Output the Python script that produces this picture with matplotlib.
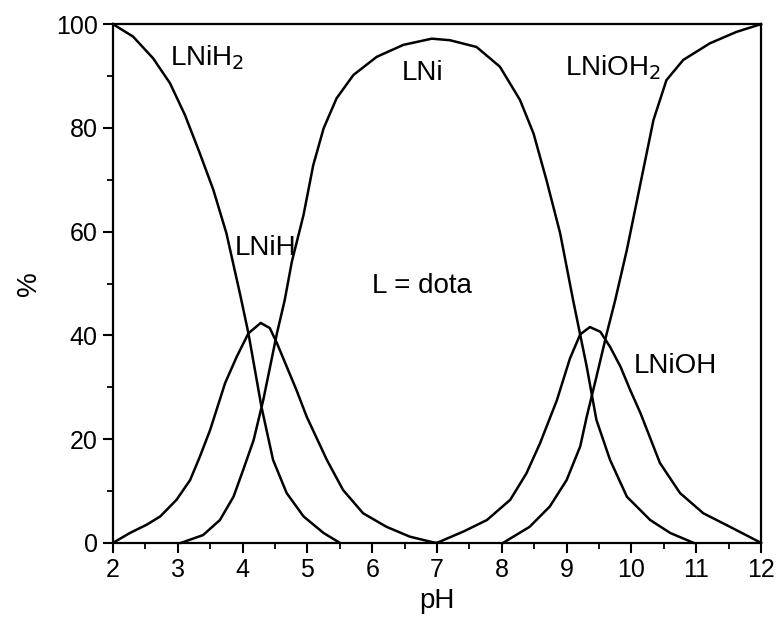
import matplotlib.pyplot as plt
from matplotlib.ticker import MultipleLocator

plt.rcParams['font.family'] = ['Liberation Sans', 'DejaVu Sans']

# species distribution curves
ph_lnih2 = [2, 2.31, 2.62, 2.88, 3.11, 3.34, 3.55, 3.75, 3.96, 4.09, 4.29, 4.47, 4.68, 4.94, 5.25, 5.5]
pc_lnih2 = [100, 97.6, 93.4, 88.6, 82.5, 75.1, 68, 59.7, 48, 40.4, 26.3, 16, 9.6, 5.1, 1.9, 0]

ph_lnih = [2, 2.26, 2.52, 2.73, 2.98, 3.19, 3.34, 3.5, 3.73, 3.91, 4.09, 4.28, 4.42, 4.53, 4.68,
           4.83, 4.99, 5.3, 5.55, 5.86, 6.22, 6.58, 6.94, 7.0]
pc_lnih = [0, 1.9, 3.5, 5.1, 8.3, 12.1, 16.6, 21.8, 30.8, 35.9, 40.4, 42.4, 41.4, 38.5, 34,
           29.5, 24.3, 16, 10.2, 5.7, 3.1, 1.2, 0.1, 0]

ph_lni = [3.05, 3.39, 3.65, 3.86, 4.01, 4.17, 4.32, 4.53, 4.65, 4.76, 4.94, 5.09, 5.25, 5.45,
          5.71, 6.07, 6.48, 6.92, 7.2, 7.61, 7.97, 8.28, 8.49, 8.69, 8.9, 9.1, 9.31, 9.46,
          9.67, 9.93, 10.29, 10.6, 10.96]
pc_lni = [0, 1.5, 4.4, 8.9, 14.1, 19.8, 27.6, 40.4, 46.8, 54.2, 63.2, 72.8, 79.9, 85.7,
          90.2, 93.7, 96, 97.2, 96.9, 95.6, 91.8, 85.4, 78.9, 69.9, 59.7, 46.8, 34, 23.7,
          16, 8.9, 4.4, 1.9, 0]

ph_lnioh = [7, 7.41, 7.77, 8.13, 8.38, 8.59, 8.85, 9.05, 9.21, 9.36, 9.52, 9.67, 9.83, 9.98,
            10.14, 10.44, 10.75, 11.11, 11.52, 12]
pc_lnioh = [0, 2.2, 4.4, 8.3, 13.4, 19.2, 27.5, 35.5, 40.2, 41.6, 40.7, 37.8, 34, 29.5,
            25, 15.4, 9.6, 5.7, 3.1, 0]

ph_lnioh2 = [8.02, 8.43, 8.74, 9.0, 9.21, 9.31, 9.46, 9.62, 9.75, 9.93, 10.13, 10.34, 10.54,
             10.8, 11.21, 11.62, 12]
pc_lnioh2 = [0, 3.1, 7, 12.1, 18.6, 24.3, 32, 40.4, 46.8, 56.5, 68.7, 81.5, 89.2,
             93.1, 96.3, 98.5, 100]

fig = plt.figure(figsize=(7.76, 6.19), dpi=100)
ax = fig.add_axes([0.1456, 0.123, 0.8351, 0.838])

for xs, ys in [(ph_lnih2, pc_lnih2), (ph_lnih, pc_lnih), (ph_lni, pc_lni),
               (ph_lnioh, pc_lnioh), (ph_lnioh2, pc_lnioh2)]:
    ax.plot(xs, ys, color='black', lw=1.8, clip_on=False, solid_joinstyle='round')

ax.set_xlim(2, 12)
ax.set_ylim(0, 100)
ax.xaxis.set_major_locator(MultipleLocator(1))
ax.xaxis.set_minor_locator(MultipleLocator(0.5))
ax.yaxis.set_major_locator(MultipleLocator(20))
ax.yaxis.set_minor_locator(MultipleLocator(10))
ax.tick_params(which='major', direction='out', length=7, width=1.5, labelsize=18, pad=4)
ax.tick_params(which='minor', direction='out', length=4, width=1.3)
for s in ax.spines.values():
    s.set_linewidth(1.6)

ax.set_xlabel('pH', fontsize=20, labelpad=4)
ax.set_ylabel('%', fontsize=20, labelpad=10)

fs = 20
ax.text(2.88, 93.6, 'LNiH$_2$', fontsize=fs, va='center', ha='left')
ax.text(6.46, 90.5, 'LNi', fontsize=fs, va='center', ha='left')
ax.text(8.98, 91.6, 'LNiOH$_2$', fontsize=fs, va='center', ha='left')
ax.text(3.88, 56.9, 'LNiH', fontsize=fs, va='center', ha='left')
ax.text(5.99, 49.5, 'L = dota', fontsize=fs, va='center', ha='left')
ax.text(10.03, 34.1, 'LNiOH', fontsize=fs, va='center', ha='left')

fig.savefig('out.png', dpi=100)
